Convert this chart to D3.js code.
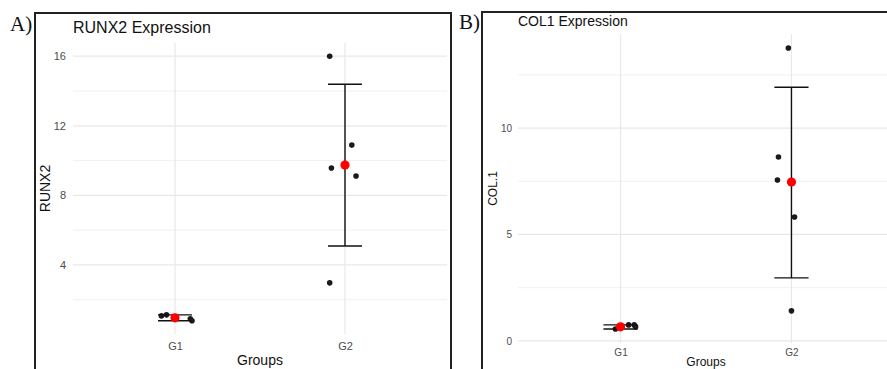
<!DOCTYPE html>
<html>
<head>
<meta charset="utf-8">
<style>
  body { margin: 0; background: #fff; }
  svg { display: block; font-family: "Liberation Sans", Arial, sans-serif; }
</style>
</head>
<body>
<svg width="887" height="369"></svg>
<script src="https://d3js.org/d3.v7.min.js"></script>
<script>

var groups = ["G1", "G2"];

// RUNX2 panel (A)
var runx2Values = [[1.07, 1.13, 0.90, 0.79], [16.0, 10.89, 9.57, 9.11, 2.97]];
var runx2Jitter = [[-0.08, -0.05, 0.09, 0.10], [-0.09, 0.04, -0.08, 0.065, -0.09]];
var runx2Mean = [0.96, 9.74];
var runx2Err = [[0.79, 1.13], [5.09, 14.39]];
var runx2Ticks = [4, 8, 12, 16];
var runx2Minor = [2, 6, 10, 14];

// COL1 panel (B)
var col1Values = [[0.56, 0.75, 0.75, 0.66], [13.76, 8.64, 7.56, 5.82, 1.41]];
var col1Jitter = [[-0.03, 0.047, 0.08, 0.088], [-0.018, -0.076, -0.082, 0.018, 0]];
var col1Mean = [0.66, 7.46];
var col1Err = [[0.56, 0.75], [2.96, 11.92]];
var col1Ticks = [0, 5, 10];
var col1Minor = [2.5, 7.5, 12.5];

var svg = d3.select("svg");

function drawPanel(p) {
  var g = svg.append("g");

  var x = d3.scalePoint().domain(groups).range([p.left, p.right]).padding(0.6);
  var y = d3.scaleLinear().domain(p.domain).range([p.bottom, p.top]);
  var step = x.step();

  // frame
  g.append("rect")
      .attr("x", p.frame[0]).attr("y", p.frame[1])
      .attr("width", p.frame[2]).attr("height", p.frame[3])
      .attr("fill", "none").attr("stroke", "#222").attr("stroke-width", 2);

  g.append("text")
      .attr("x", p.tag[0]).attr("y", p.tag[1])
      .attr("font-family", "Liberation Serif, Times New Roman, serif")
      .attr("font-size", 21).attr("fill", "#111")
      .text(p.tagText);

  // grid
  g.selectAll(".minor").data(p.minor).enter().append("line")
      .attr("x1", p.left).attr("x2", p.right)
      .attr("y1", function(d) { return y(d); }).attr("y2", function(d) { return y(d); })
      .attr("stroke", "#f1f1f1").attr("stroke-width", 1);
  g.selectAll(".major").data(p.ticks).enter().append("line")
      .attr("x1", p.left).attr("x2", p.right)
      .attr("y1", function(d) { return y(d); }).attr("y2", function(d) { return y(d); })
      .attr("stroke", "#e8e8e8").attr("stroke-width", 1.2);
  g.selectAll(".vgrid").data(groups).enter().append("line")
      .attr("x1", function(d) { return x(d); }).attr("x2", function(d) { return x(d); })
      .attr("y1", p.top).attr("y2", p.bottom)
      .attr("stroke", "#e8e8e8").attr("stroke-width", 1.2);

  // axes (theme_minimal: no lines, only labels)
  var ya = g.append("g")
      .attr("transform", "translate(" + p.left + ",0)")
      .call(d3.axisLeft(y).tickValues(p.ticks).tickSize(0).tickPadding(p.tickPad));
  ya.select(".domain").remove();
  ya.selectAll("text").attr("font-size", p.tickFont).attr("fill", "#4d4d4d")
      .attr("font-family", "Liberation Sans, Arial, sans-serif");

  var xa = g.append("g")
      .attr("transform", "translate(0," + p.bottom + ")")
      .call(d3.axisBottom(x).tickSize(0).tickPadding(p.xPad));
  xa.select(".domain").remove();
  xa.selectAll("text").attr("font-size", p.tickFont).attr("fill", "#4d4d4d")
      .attr("font-family", "Liberation Sans, Arial, sans-serif");

  // titles
  g.append("text")
      .attr("x", p.left).attr("y", p.titleY)
      .attr("font-size", p.titleFont).attr("fill", "#111")
      .text(p.title);
  g.append("text")
      .attr("transform", "translate(" + p.ylabX + "," + (p.top + p.bottom) / 2 + ") rotate(-90)")
      .attr("text-anchor", "middle")
      .attr("font-size", p.labFont).attr("fill", "#111")
      .text(p.ylab);
  g.append("text")
      .attr("x", (p.left + p.right) / 2).attr("y", p.xlabY)
      .attr("text-anchor", "middle")
      .attr("font-size", p.labFont).attr("fill", "#111")
      .text("Groups");

  // points
  groups.forEach(function(grp, i) {
    g.selectAll(".pt" + i).data(p.values[i]).enter().append("circle")
        .attr("cx", function(d, j) { return x(grp) + p.jitter[i][j] * step; })
        .attr("cy", function(d) { return y(d); })
        .attr("r", 2.8)
        .attr("fill", "#1a1a1a");
  });

  // error bars
  var eb = g.selectAll(".eb").data(groups).enter().append("g");
  var hw = p.capW / 2;
  eb.append("line")
      .attr("x1", function(d) { return x(d); }).attr("x2", function(d) { return x(d); })
      .attr("y1", function(d, i) { return y(p.err[i][0]); })
      .attr("y2", function(d, i) { return y(p.err[i][1]); })
      .attr("stroke", "#111").attr("stroke-width", 1.4);
  [0, 1].forEach(function(k) {
    eb.append("line")
        .attr("x1", function(d) { return x(d) - hw * step; })
        .attr("x2", function(d) { return x(d) + hw * step; })
        .attr("y1", function(d, i) { return y(p.err[i][k]); })
        .attr("y2", function(d, i) { return y(p.err[i][k]); })
        .attr("stroke", "#111").attr("stroke-width", 1.4);
  });

  // means
  g.selectAll(".mean").data(p.mean).enter().append("circle")
      .attr("cx", function(d, i) { return x(groups[i]); })
      .attr("cy", function(d) { return y(d); })
      .attr("r", 4.6)
      .attr("fill", "#ff0000");
}

drawPanel({
  values: runx2Values, jitter: runx2Jitter, mean: runx2Mean, err: runx2Err,
  ticks: runx2Ticks, minor: runx2Minor,
  left: 73, right: 447, top: 43, bottom: 334, domain: [0.03, 16.76],
  frame: [35, 13, 416, 380], tag: [10, 31], tagText: "A)",
  title: "RUNX2 Expression", titleY: 33, titleFont: 16,
  ylab: "RUNX2", ylabX: 50, xlabY: 365, labFont: 14,
  tickFont: 11, tickPad: 7, xPad: 8, capW: 0.2
});

drawPanel({
  values: col1Values, jitter: col1Jitter, mean: col1Mean, err: col1Err,
  ticks: col1Ticks, minor: col1Minor,
  left: 518, right: 894, top: 34, bottom: 343, domain: [-0.1, 14.42],
  frame: [482, 12, 420, 380], tag: [459, 29], tagText: "B)",
  title: "COL1 Expression", titleY: 26, titleFont: 14,
  ylab: "COL.1", ylabX: 497, xlabY: 366, labFont: 12,
  tickFont: 10, tickPad: 6, xPad: 6, capW: 0.2
});

</script>
</body>
</html>
